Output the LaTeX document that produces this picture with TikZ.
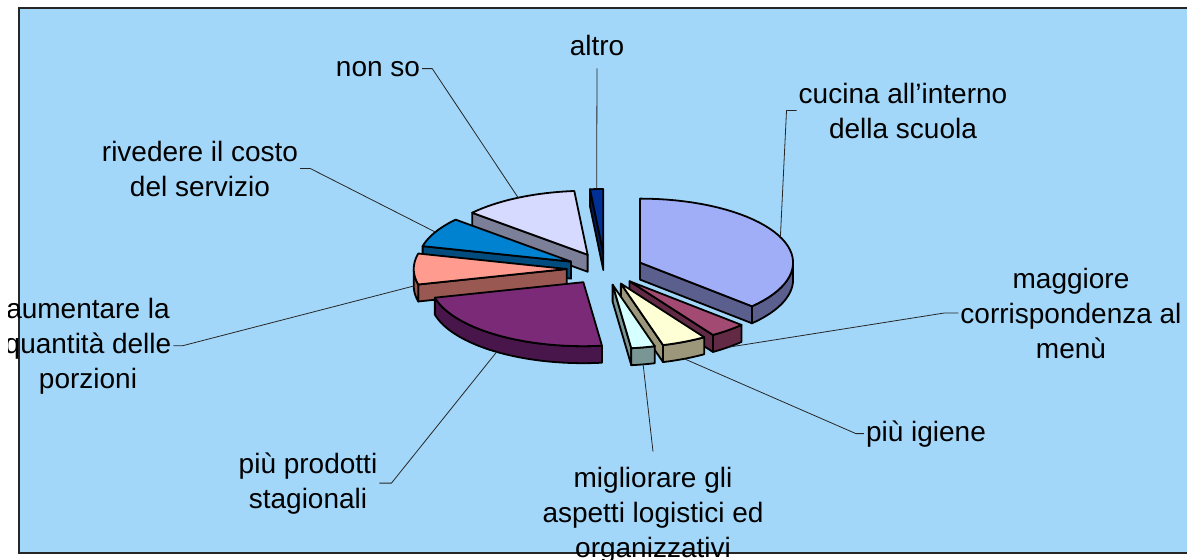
\documentclass[tikz,border=0pt]{standalone}
\usepackage{fontspec}
\setmainfont{Liberation Sans}

\definecolor{PlotBlue}{HTML}{A3D7FA}
\definecolor{cucinaTop}{HTML}{A0AEF8}
\definecolor{cucinaSide}{HTML}{5A5F8E}
\definecolor{menuTop}{HTML}{A24A72}
\definecolor{menuSide}{HTML}{622A44}
\definecolor{igieneTop}{HTML}{FFFFD6}
\definecolor{igieneSide}{HTML}{9C967A}
\definecolor{logistTop}{HTML}{D6FFFF}
\definecolor{logistSide}{HTML}{7A9694}
\definecolor{stagioTop}{HTML}{7A2A76}
\definecolor{stagioSide}{HTML}{48164A}
\definecolor{porzioniTop}{HTML}{FF9B8F}
\definecolor{porzioniSide}{HTML}{9A5852}
\definecolor{costoTop}{HTML}{0082D0}
\definecolor{costoSide}{HTML}{004C7E}
\definecolor{nonsoTop}{HTML}{D6DAFF}
\definecolor{nonsoSide}{HTML}{7C7F98}
\definecolor{altroTop}{HTML}{003096}
\definecolor{altroSide}{HTML}{001C5A}

\newcommand{\Rx}{153}
\newcommand{\Ry}{64}
\newcommand{\Thick}{17}
\newcommand{\Burst}{0.25}
\newcommand{\Cx}{605}
\newcommand{\Cy}{269}

\tikzset{SliceLine/.style={
    draw=black,
    line width=1.8pt,
    line join=round
    }
}
\tikzset{Leader/.style={
    draw=black!85,
    line width=0.8pt
    }
}
\tikzset{Label/.style={
    font=\fontsize{28}{35}\selectfont,
    align=center,
    inner sep=2pt,
    anchor=base
    }
}

% one exploded slice: start, end, top colour, side colour, tip name
\newcommand{\Slice}[5]{%
  \pgfmathsetmacro{\Mid}{(#1+#2)/2}
  \pgfmathsetmacro{\Ax}{\Cx+\Burst*\Rx*sin(\Mid)}
  \pgfmathsetmacro{\Ay}{\Cy-\Burst*\Ry*cos(\Mid)}
  \pgfmathtruncatemacro{\ShowA}{-sin(#1) > 0.01}
  \pgfmathtruncatemacro{\ShowB}{sin(#2) > 0.01}
  \pgfmathsetmacro{\Ra}{max(#1,90)}
  \pgfmathsetmacro{\Rb}{min(#2,270)}
  \pgfmathtruncatemacro{\ShowR}{\Ra < \Rb}
  \ifnum\ShowA=1
    \path[SliceLine, fill=#4] ({\Ax},{\Ay}) -- ({\Ax+\Rx*sin(#1)},{\Ay-\Ry*cos(#1)})
      -- ++(0,\Thick) -- ({\Ax},{\Ay+\Thick}) -- cycle;
  \fi
  \ifnum\ShowB=1
    \path[SliceLine, fill=#4] ({\Ax},{\Ay}) -- ({\Ax+\Rx*sin(#2)},{\Ay-\Ry*cos(#2)})
      -- ++(0,\Thick) -- ({\Ax},{\Ay+\Thick}) -- cycle;
  \fi
  \ifnum\ShowR=1
    \path[SliceLine, fill=#4]
      plot[domain=\Ra:\Rb, samples=40, variable=\t] ({\Ax+\Rx*sin(\t)},{\Ay-\Ry*cos(\t)})
      -- plot[domain=\Rb:\Ra, samples=40, variable=\t] ({\Ax+\Rx*sin(\t)},{\Ay-\Ry*cos(\t)+\Thick})
      -- cycle;
  \fi
  \path[SliceLine, fill=#3] ({\Ax},{\Ay})
    -- plot[domain=#1:#2, samples=40, variable=\t] ({\Ax+\Rx*sin(\t)},{\Ay-\Ry*cos(\t)})
    -- cycle;
  \pgfmathsetmacro{\Drop}{cos(\Mid) < 0.1 ? \Thick : 0}
  \coordinate (#5) at ({\Ax+\Rx*sin(\Mid)},{\Ay-\Ry*cos(\Mid)+\Drop});
}

\begin{document}
\begin{tikzpicture}[x=1pt, y=-1pt]
    \useasboundingbox (0,0) rectangle (1187,560);

    \fill[white] (0,0) rectangle (1187,560);
    \path[fill=PlotBlue, draw=black!85, line width=1.5pt] (19,8) rectangle (1200,553);

    % slices, back to front
    \foreach \a/\b/\topc/\sidec/\tip in {
        355/360/altroTop/altroSide/altroTip,
        311/355/nonsoTop/nonsoSide/nonsoTip,
        284/311/costoTop/costoSide/costoTip,
        0/133/cucinaTop/cucinaSide/cucinaTip,
        256/284/porzioniTop/porzioniSide/porzioniTip,
        133/147/menuTop/menuSide/menuTip,
        173/256/stagioTop/stagioSide/stagioTip,
        147/164/igieneTop/igieneSide/igieneTip,
        164/173/logistTop/logistSide/logistTip}
    {
        \Slice{\a}{\b}{\topc}{\sidec}{\tip}
    }

    \node[Label] (altro) at (597,55) {altro};
    \node[Label] (nonso) at (378,76) {non so};
    \node[Label] (cucina) at (903,138) {cucina all'interno\\della scuola};
    \node[Label] (menu) at (1071,358) {maggiore\\corrispondenza al\\menù};
    \node[Label] (igiene) at (926,441) {più igiene};
    \node[Label] (logistica) at (653,557) {migliorare gli\\aspetti logistici ed\\organizzativi};
    \node[Label] (stagionali) at (308,508) {più prodotti\\stagionali};
    \node[Label] (costo) at (200,196) {rivedere il costo\\del servizio};
    \begin{scope}
        \clip (8,0) rectangle (400,560);
        \node[Label] (porzioni) at (88,388) {aumentare la\\quantità delle\\porzioni};
    \end{scope}

    \draw[Leader] (altro.south) ++(0,11) -- (altroTip);
    \draw[Leader] (nonso.east) -- ++(10,0) -- (nonsoTip);
    \draw[Leader] (cucina.west) -- ++(-10,0) -- (cucinaTip);
    \draw[Leader] (menu.west) -- ++(-14,0) -- (menuTip);
    \draw[Leader] (igiene.west) -- ++(-8,0) -- (igieneTip);
    \draw[Leader] (logistica.north) ++(0,-13) -- (logistTip);
    \draw[Leader] (stagionali.east) -- ++(12,0) -- (stagioTip);
    \draw[Leader] (porzioni.east) -- ++(9,0) -- (porzioniTip);
    \draw[Leader] (costo.east) -- ++(10,0) -- (costoTip);
\end{tikzpicture}
\end{document}
